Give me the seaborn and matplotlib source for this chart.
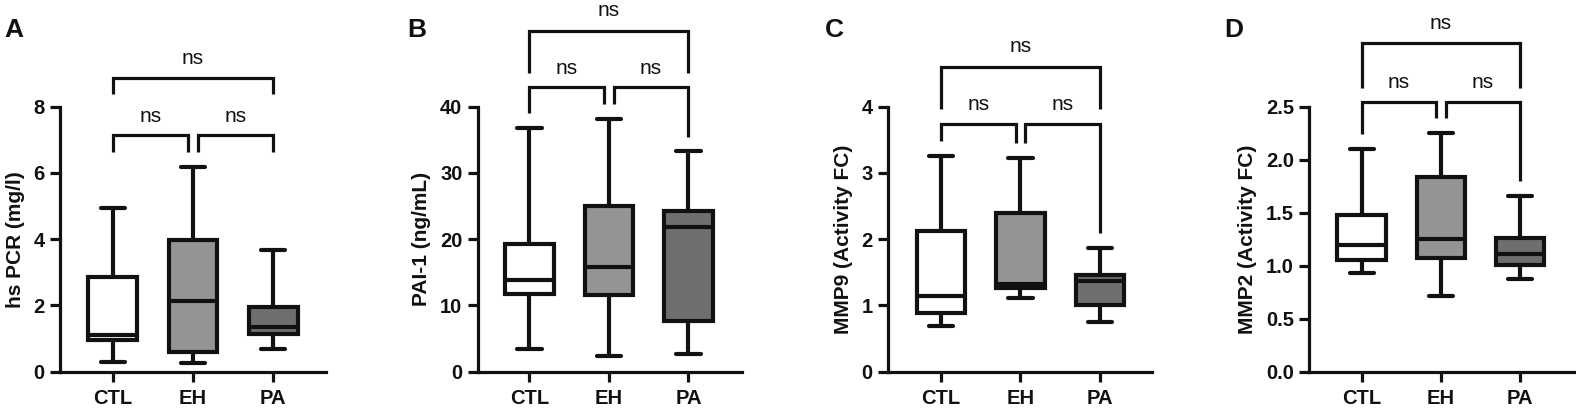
import numpy as np
import pandas as pd
import matplotlib
matplotlib.use("Agg")
import matplotlib.pyplot as plt
import seaborn as sns

sns.set_style("ticks")
plt.rcParams['font.family'] = ['Liberation Sans', 'DejaVu Sans']

# ---------------- data (five-number summaries: min, Q1, median, Q3, max) ----------------
groups = ["CTL", "EH", "PA"]
group_colors = ["#ffffff", "#949497", "#6e6e6e"]

hspcr_ctl = [0.30, 0.96, 1.12, 2.87, 4.95]
hspcr_eh = [0.27, 0.58, 2.13, 3.98, 6.17]
hspcr_pa = [0.68, 1.15, 1.36, 1.96, 3.67]

pai1_ctl = [3.5, 11.8, 13.9, 19.35, 36.8]
pai1_eh = [2.4, 11.6, 15.8, 25.0, 38.2]
pai1_pa = [2.7, 7.6, 21.9, 24.2, 33.3]

mmp9_ctl = [0.69, 0.88, 1.14, 2.13, 3.26]
mmp9_eh = [1.12, 1.26, 1.33, 2.40, 3.23]
mmp9_pa = [0.75, 1.00, 1.37, 1.46, 1.86]

mmp2_ctl = [0.93, 1.05, 1.20, 1.48, 2.10]
mmp2_eh = [0.71, 1.07, 1.25, 1.84, 2.25]
mmp2_pa = [0.87, 1.01, 1.11, 1.26, 1.66]

ylabels = ["hs PCR (mg/l)", "PAI-1 (ng/mL)", "MMP9 (Activity FC)", "MMP2 (Activity FC)"]
panel_letters = ["A", "B", "C", "D"]
yticks_a = [0, 2, 4, 6, 8]
yticks_b = [0, 10, 20, 30, 40]
yticks_c = [0, 1, 2, 3, 4]
yticks_d = [0.0, 0.5, 1.0, 1.5, 2.0, 2.5]
sig_label = "ns"

# bracket heights: [top bracket y, top legs bottom, lower bracket y, CTL leg, EH leg, PA leg, top text, lower text]
brk_a = [8.88, 8.38, 7.15, 6.63, 6.63, 6.63, 9.29, 7.55]
brk_b = [51.5, 45.1, 42.9, 39.0, 40.4, 35.5, 53.7, 45.0]
brk_c = [4.60, 3.96, 3.74, 3.48, 3.45, 2.10, 4.82, 3.95]
brk_d = [3.10, 2.68, 2.54, 2.24, 2.39, 1.80, 3.23, 2.68]

# ---------------- figure ----------------
W, H = 1576, 409
fig = plt.figure(figsize=(W / 100, H / 100), dpi=100)

panels = [
    dict(vals=[hspcr_ctl, hspcr_eh, hspcr_pa], yt=yticks_a, fmt="{:g}", brk=brk_a,
         left=60, right=326, xlim=(-0.66, 2.66), ylab_x=25, letter_x=4),
    dict(vals=[pai1_ctl, pai1_eh, pai1_pa], yt=yticks_b, fmt="{:g}", brk=brk_b,
         left=477.7, right=741.7, xlim=(-0.65, 2.67), ylab_x=431, letter_x=407),
    dict(vals=[mmp9_ctl, mmp9_eh, mmp9_pa], yt=yticks_c, fmt="{:g}", brk=brk_c,
         left=887.7, right=1151.7, xlim=(-0.67, 2.65), ylab_x=853, letter_x=825),
    dict(vals=[mmp2_ctl, mmp2_eh, mmp2_pa], yt=yticks_d, fmt="{:.1f}", brk=brk_d,
         left=1309.3, right=1574, xlim=(-0.66, 2.68), ylab_x=1257, letter_x=1224),
]

top_px, bot_px = 106.7, 371.7
lw_box = 3.0
lw_line = 2.3

for i, p in enumerate(panels):
    ax = fig.add_axes([p["left"] / W, 1 - bot_px / H, (p["right"] - p["left"]) / W, (bot_px - top_px) / H])
    rows = []
    for g, v in zip(groups, p["vals"]):
        for x in v:
            rows.append((g, x))
    df = pd.DataFrame(rows, columns=["group", "value"])
    sns.boxplot(data=df, x="group", y="value", hue="group", order=groups, hue_order=groups,
                palette=dict(zip(groups, group_colors)), legend=False, whis=(0, 100),
                width=0.61, linecolor="#111111", linewidth=lw_box, fliersize=0, ax=ax,
                saturation=1)
    ax.set_xlim(*p["xlim"])
    ax.set_ylim(p["yt"][0], p["yt"][-1])
    ax.set_yticks(p["yt"])
    ax.set_yticklabels([p["fmt"].format(t) for t in p["yt"]])
    ax.set_xlabel("")
    ax.set_ylabel(ylabels[i], fontsize=15, fontweight="bold", color="#111111")
    ax.yaxis.set_label_coords((p["ylab_x"] - p["left"]) / (p["right"] - p["left"]), 0.5)
    sns.despine(ax=ax)
    for s in ["left", "bottom"]:
        ax.spines[s].set_linewidth(lw_line)
        ax.spines[s].set_color("#111111")
    ax.tick_params(axis="both", width=lw_line, length=7.5, color="#111111", labelsize=14.5,
                   labelcolor="#111111")
    ax.tick_params(axis="y", pad=3.5)
    ax.tick_params(axis="x", pad=5)
    for lab in ax.get_xticklabels() + ax.get_yticklabels():
        lab.set_fontweight("bold")

    b = p["brk"]
    kw = dict(color="#111111", lw=lw_line, clip_on=False, solid_capstyle="butt", solid_joinstyle="miter")
    # top bracket CTL-PA
    ax.plot([0, 0, 2, 2], [b[1], b[0], b[0], b[1]], **kw)
    # CTL-EH
    ax.plot([0, 0, 0.94, 0.94], [b[3], b[2], b[2], b[4]], **kw)
    # EH-PA
    ax.plot([1.06, 1.06, 2, 2], [b[4], b[2], b[2], b[5]], **kw)
    tkw = dict(ha="center", va="baseline", fontsize=15, color="#111111", clip_on=False)
    ax.text(1.0, b[6], sig_label, **tkw)
    ax.text(0.47, b[7], sig_label, **tkw)
    ax.text(1.53, b[7], sig_label, **tkw)

    fig.text(p["letter_x"] / W, 1 - 18 / H, panel_letters[i], ha="left", va="top",
             fontsize=19, fontweight="bold", color="#111111")

fig.savefig("out.png", dpi=100, facecolor="white")
